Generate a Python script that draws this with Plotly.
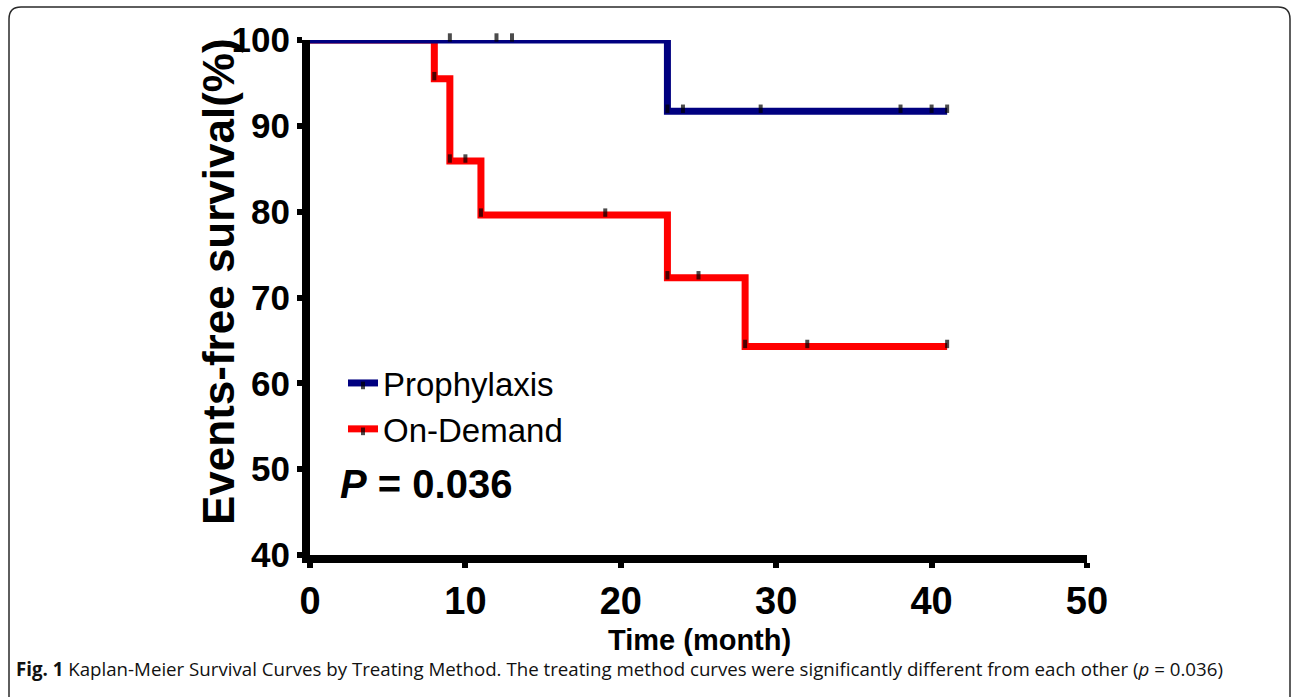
import plotly.graph_objects as go

# ---- data ----
proph_time = [0, 9, 12, 13, 23, 24, 29, 38, 40, 41]
proph_surv = [100, 100, 100, 100, 91.7, 91.7, 91.7, 91.7, 91.7, 91.7]
proph_censor = [0, 1, 1, 1, 1, 1, 1, 1, 1, 1]

ond_time = [0, 8, 9, 10, 11, 19, 23, 25, 28, 32, 41]
ond_surv = [100, 95.5, 85.9, 85.9, 79.6, 79.6, 72.3, 72.3, 64.3, 64.3, 64.3]
ond_censor = [0, 1, 1, 1, 1, 1, 1, 1, 1, 1, 1]

x_ticks = [0, 10, 20, 30, 40, 50]
y_ticks = [40, 50, 60, 70, 80, 90, 100]

caption = ("<b>Fig. 1</b> Kaplan-Meier Survival Curves by Treating Method. The treating method "
           "curves were significantly different from each other (<i>p</i> = 0.036)")

# ---- layout geometry ----
W, H = 1292, 697
L, R, T, B = 310, 205, 40, 142
PW, PH = W - L - R, H - T - B


def px2x(px):
    return (px - L) / PW


def px2y(py):
    return 1 - (py - T) / PH


MARK = 6
fig = go.Figure()
fig.add_trace(go.Scatter(
    x=ond_time, y=ond_surv, name="On-Demand", mode="lines+markers",
    line=dict(color="#ff0000", width=7, shape="hv"),
    marker=dict(symbol="line-ns", size=[MARK * c for c in ond_censor], color="black",
                angle=180, standoff=2.5,
                line=dict(color="black", width=[4] * len(ond_time))),
    cliponaxis=False, legendrank=2,
))
fig.add_trace(go.Scatter(
    x=proph_time, y=proph_surv, name="Prophylaxis", mode="lines+markers",
    line=dict(color="#000080", width=7, shape="hv"),
    marker=dict(symbol="line-ns", size=[MARK * c for c in proph_censor], color="black",
                angle=180, standoff=2.5,
                line=dict(color="black", width=[4] * len(proph_time))),
    cliponaxis=False, legendrank=1,
))

fig.update_xaxes(range=[0, 50], tickvals=x_ticks, showgrid=False, zeroline=False,
                 showline=True, linecolor="black", linewidth=8,
                 ticks="outside", ticklen=5, tickwidth=6, tickcolor="black",
                 tickfont=dict(family="Liberation Sans, Arial", size=38, color="black", weight="bold"))
fig.update_yaxes(range=[40, 100], tickvals=y_ticks, showgrid=False, zeroline=False,
                 showline=True, linecolor="black", linewidth=8,
                 ticks="outside", ticklen=5, tickwidth=6, tickcolor="black",
                 tickfont=dict(family="Liberation Sans, Arial", size=35, color="black", weight="bold"))

rx = 12
path = (f"M {px2x(9)},{px2y(730)} L {px2x(9)},{px2y(7 + rx)} "
        f"Q {px2x(9)},{px2y(7)} {px2x(9 + rx)},{px2y(7)} "
        f"L {px2x(1290 - rx)},{px2y(7)} "
        f"Q {px2x(1290)},{px2y(7)} {px2x(1290)},{px2y(7 + rx)} "
        f"L {px2x(1290)},{px2y(730)}")
fig.add_shape(type="path", path=path, xref="paper", yref="paper",
              line=dict(color="#2a2a2a", width=1.5), layer="below")

fig.add_annotation(text="Events-free survival(%)", textangle=-90, xref="paper", yref="paper",
                   x=px2x(218), y=px2y(282), xanchor="center", yanchor="middle", showarrow=False,
                   font=dict(family="Liberation Sans, Arial", size=44, color="black", weight="bold"))
fig.add_annotation(text="Time (month)", xref="paper", yref="paper",
                   x=px2x(699), y=px2y(640), xanchor="center", yanchor="middle", showarrow=False,
                   font=dict(family="Liberation Sans, Arial", size=29, color="black", weight="bold"))
fig.add_annotation(text="<b><i>P</i> = 0.036</b>", xref="paper", yref="paper",
                   x=px2x(338), y=px2y(484), xanchor="left", yanchor="middle", showarrow=False,
                   font=dict(family="Liberation Sans, Arial", size=40, color="black"))
fig.add_annotation(text=caption, xref="paper", yref="paper",
                   x=px2x(14), y=px2y(668), xanchor="left", yanchor="middle", showarrow=False,
                   font=dict(family="Open Sans", size=18.7, color="#111111"))

fig.update_layout(
    width=W, height=H, margin=dict(l=L, r=R, t=T, b=B, autoexpand=False),
    paper_bgcolor="white", plot_bgcolor="white",
    showlegend=True,
    legend=dict(x=px2x(343), y=px2y(355), xanchor="left", yanchor="top",
                bgcolor="rgba(0,0,0,0)", borderwidth=0,
                font=dict(family="Liberation Sans, Arial", size=33, color="black")),
)

fig.write_html("out.html", config={"displayModeBar": False},
               post_script="document.body.style.margin='0px';document.documentElement.style.overflow='hidden';")
